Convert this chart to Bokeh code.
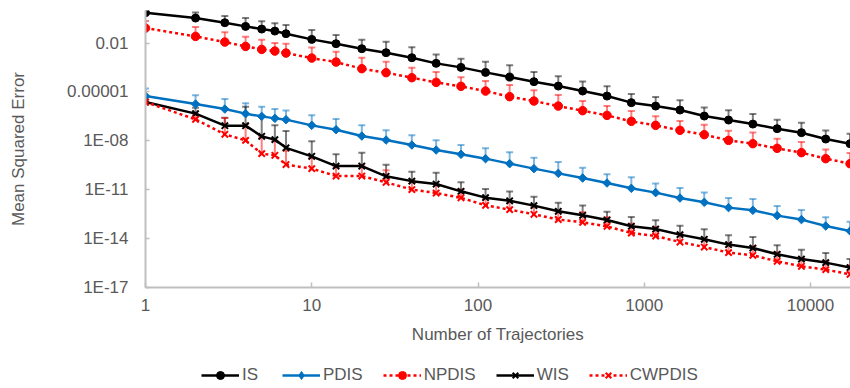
from bokeh.plotting import figure
from bokeh.layouts import column
from bokeh.models import (ColumnDataSource, Whisker, TeeHead, Legend, LegendItem,
                          FixedTicker, Range1d)
from bokeh.embed import file_html
from bokeh.resources import INLINE

# ---------------- data ----------------
trajectories = [1, 2, 3, 4, 5, 6, 7, 10, 14, 20, 28, 40, 56, 79, 111, 155, 217, 304,
                426, 597, 836, 1171, 1640, 2296, 3214, 4500, 6300, 8820, 12348, 17287]

is_mse = [0.733, 0.342, 0.178, 0.106, 0.0723, 0.0545, 0.0378, 0.0169, 9.18e-3, 4.53e-3,
          2.58e-3, 1.27e-3, 5.69e-4, 3.23e-4, 1.59e-4, 8.2e-5, 4.29e-5, 2.3e-5, 1.135e-5,
          5.6e-6, 2.21e-6, 1.36e-6, 7.76e-7, 3.32e-7, 1.89e-7, 1.07e-7, 5.6e-8, 3.18e-8,
          1.29e-8, 6.73e-9]
is_err = [0.0, 0.42, 0.28, 0.24, 0.15, 0.11, 0.091, 0.046, 0.022, 0.0116,
          0.0096, 0.0042, 1.46e-3, 7.8e-4, 5.6e-4, 3.5e-4, 1.26e-4, 6.8e-5, 3.3e-5,
          1.65e-5, 5.3e-6, 3.5e-6, 2.3e-6, 8.0e-7, 5.6e-7, 3.3e-7, 1.44e-7, 9.9e-8,
          3.1e-8, 2.1e-8]

pdis_mse = [5.6e-6, 1.81e-6, 8.93e-7, 4.67e-7, 3.18e-7, 2.4e-7, 2.0e-7, 8.93e-8, 4.86e-8,
            1.97e-8, 1.12e-8, 5.52e-9, 2.73e-9, 1.49e-9, 8.09e-10, 3.99e-10, 1.97e-10,
            1.01e-10, 5.22e-11, 2.58e-11, 1.22e-11, 6.64e-12, 3.1e-12, 1.69e-12, 7.98e-13,
            5.45e-13, 2.58e-13, 1.47e-13, 5.93e-14, 2.92e-14]
pdis_err = [1.1e-5, 4.4e-6, 2.8e-6, 1.54e-6, 9.3e-7, 6.5e-7, 5.4e-7, 2.8e-7, 1.72e-7,
            7.0e-8, 3.3e-8, 1.62e-8, 8.2e-9, 4.1e-9, 2.7e-9, 1.57e-9, 7.3e-10,
            4.0e-10, 1.72e-10, 6.2e-11, 4.6e-11, 1.71e-11, 9.6e-12, 5.0e-12, 2.35e-12,
            2.14e-12, 7.6e-13, 4.3e-13, 1.44e-13, 7.9e-14]

npdis_mse = [0.0832, 0.0258, 0.0115, 6.28e-3, 4.1e-3, 3.23e-3, 2.44e-3, 1.2e-3, 6.82e-4,
             2.69e-4, 1.53e-4, 7.53e-5, 3.88e-5, 2.21e-5, 1.135e-5, 5.15e-6, 2.77e-6,
             1.36e-6, 7.13e-7, 3.66e-7, 1.57e-7, 8.93e-8, 4.41e-8, 2.4e-8, 1.07e-8,
             6.73e-9, 3.47e-9, 1.89e-9, 8.09e-10, 3.99e-10]
npdis_err = [0.14, 0.070, 0.034, 0.0185, 0.0121, 6.8e-3, 6.6e-3, 4.2e-3, 2.24e-3,
             1.0e-3, 5.7e-4, 2.33e-4, 1.32e-4, 5.7e-5, 3.5e-5, 2.17e-5, 9.8e-6,
             5.1e-6, 2.1e-6, 1.0e-6, 5.2e-7, 2.4e-7, 1.2e-7, 7.4e-8, 3.1e-8,
             2.6e-8, 1.02e-8, 6.7e-9, 2.1e-9, 1.41e-9]

wis_mse = [2.4e-6, 4.67e-7, 8.57e-8, 8.57e-8, 1.89e-8, 1.19e-8, 3.72e-9, 1.12e-9, 2.84e-10,
           2.84e-10, 6.64e-11, 3.37e-11, 2.24e-11, 7.98e-12, 3.27e-12, 2.08e-12, 1.06e-12,
           4.73e-13, 2.69e-13, 1.38e-13, 5.69e-14, 3.88e-14, 1.76e-14, 9.06e-15, 4.29e-15,
           2.65e-15, 1.09e-15, 5.6e-16, 3.37e-16, 1.66e-16]
wis_err = [0.0, 6.2e-7, 1.8e-7, 1.17e-6, 3.0e-7, 7.8e-8, 3.6e-8, 8.2e-9, 1.2e-9,
           1.58e-9, 2.8e-10, 9.2e-11, 8.8e-11, 2.05e-11, 7.9e-12, 5.7e-12, 2.6e-12,
           1.14e-12, 7.9e-13, 3.1e-13, 1.55e-13, 9.4e-14, 4.3e-14, 2.8e-14, 1.17e-14,
           9.9e-15, 2.8e-15, 1.52e-15, 9.9e-16, 4.0e-16]

cwpdis_mse = [2.4e-6, 2.08e-7, 2.51e-8, 1.07e-8, 1.64e-9, 1.29e-9, 3.52e-10, 1.97e-10,
              6.92e-11, 6.92e-11, 2.84e-11, 1.03e-11, 6.28e-12, 3.18e-12, 1.1e-12,
              6.01e-13, 3.1e-13, 1.49e-13, 1.0e-13, 5.69e-14, 2.21e-14, 1.45e-14,
              6.18e-15, 3.05e-15, 1.38e-15, 9.44e-16, 4.05e-16, 2.0e-16, 1.25e-16, 6.46e-17]
cwpdis_err = [0.0, 2.1e-7, 2.3e-7, 9.2e-8, 1.7e-8, 9.4e-9, 2.1e-9, 7.0e-10,
              1.88e-10, 2.4e-10, 1.26e-10, 2.5e-11, 1.52e-11, 7.1e-12, 2.0e-12,
              1.54e-12, 6.9e-13, 3.3e-13, 3.1e-13, 1.46e-13, 6.0e-14, 3.7e-14,
              1.38e-14, 6.8e-15, 3.8e-15, 2.4e-15, 1.04e-15, 4.5e-16, 3.0e-16, 1.56e-16]

series_names = ["IS", "PDIS", "NPDIS", "WIS", "CWPDIS"]

x_ticks = [1, 10, 100, 1000, 10000]
x_tick_labels = ["1", "10", "100", "1000", "10000"]
y_ticks = [1e-17, 1e-14, 1e-11, 1e-8, 1e-5, 1e-2]
y_tick_labels = ["1E-17", "1E-14", "1E-11", "1E-08", "0.00001", "0.01"]

# ---------------- main figure ----------------
FONT = "Liberation Sans"
TXT = "#595959"
AXC = "#bfbfbf"

p = figure(width=850, height=362, x_axis_type="log", y_axis_type="log",
           x_range=Range1d(1, 17400), y_range=Range1d(1e-17, 1),
           output_backend="svg", toolbar_location=None,
           min_border_left=145, min_border_right=0, min_border_top=10,
           min_border_bottom=75)
p.outline_line_color = None
p.xgrid.visible = False
p.ygrid.visible = False
p.background_fill_color = "white"
p.border_fill_color = "white"

for ax in (p.xaxis[0], p.yaxis[0]):
    ax.axis_line_color = AXC
    ax.axis_line_width = 2
    ax.major_tick_line_color = AXC
    ax.major_tick_line_width = 1.5
    ax.major_tick_out = 0
    ax.minor_tick_line_color = None
    ax.major_label_text_font = FONT
    ax.major_label_text_font_size = "17px"
    ax.major_label_text_color = TXT
    ax.axis_label_text_font = FONT
    ax.axis_label_text_font_size = "17px"
    ax.axis_label_text_color = TXT
    ax.axis_label_text_font_style = "normal"

p.xaxis[0].ticker = FixedTicker(ticks=x_ticks)
p.xaxis[0].major_label_overrides = dict(zip(x_ticks, x_tick_labels))
p.xaxis[0].major_tick_in = 5
p.xaxis[0].major_label_standoff = 11
p.xaxis[0].axis_label = "Number of Trajectories"
p.xaxis[0].axis_label_standoff = 11

p.yaxis[0].ticker = FixedTicker(ticks=y_ticks)
p.yaxis[0].major_label_overrides = dict(zip(y_ticks, y_tick_labels))
p.yaxis[0].major_tick_in = 4
p.yaxis[0].major_label_standoff = 17
p.yaxis[0].axis_label = "Mean Squared Error"
p.yaxis[0].axis_label_standoff = 36

BLACK = "#000000"
RED = "#ff0000"
BLUE = "#0070c0"

# name, values, errors, colour, chart marker, size, dash, angle, legend marker, legend size
specs = [
    ("IS", is_mse, is_err, BLACK, "circle", 8, "solid", 0.0, "circle", 8),
    ("PDIS", pdis_mse, pdis_err, BLUE, "square", 6, "solid", 0.785398, "diamond", 10),
    ("NPDIS", npdis_mse, npdis_err, RED, "circle", 8.5, "3 3", 0.0, "circle", 8.5),
    ("WIS", wis_mse, wis_err, BLACK, "x", 9, "solid", 0.0, "x", 9),
    ("CWPDIS", cwpdis_mse, cwpdis_err, RED, "x", 9, "3 3", 0.0, "x", 9),
]

# ---------------- legend strip (separate figure below the chart) ----------------
lg = figure(width=850, height=26, x_range=Range1d(-3, -2), y_range=Range1d(-3, -2),
            output_backend="svg", toolbar_location=None,
            x_axis_location=None, y_axis_location=None,
            min_border=0, min_border_left=0, min_border_right=0,
            min_border_top=0, min_border_bottom=0)
lg.outline_line_color = None
lg.xgrid.visible = False
lg.ygrid.visible = False


def draw(fig, src, color, marker, size, dash, angle):
    lr = fig.line("x", "y", source=src, line_color=color, line_width=2.5, line_dash=dash)
    if marker == "x":
        sr = fig.scatter("x", "y", source=src, marker="x", size=size,
                         line_color=color, line_width=2)
    else:
        sr = fig.scatter("x", "y", source=src, marker=marker, size=size, angle=angle,
                         fill_color=color, line_color=color, line_width=1)
    return lr, sr


items = []
for name, ys, errs, color, marker, size, dash, angle, lmarker, lsize in specs:
    src = ColumnDataSource(dict(x=trajectories, y=ys,
                                upper=[a + b for a, b in zip(ys, errs)]))
    w = Whisker(source=src, base="x", lower="y", upper="upper", dimension="height",
                line_color=color, line_alpha=0.5, line_width=2,
                upper_head=TeeHead(size=7, line_color=color, line_alpha=0.5, line_width=2),
                lower_head=None, level="underlay")
    p.add_layout(w)
    draw(p, src, color, marker, size, dash, angle)
    lr, sr = draw(lg, src, color, lmarker, lsize, dash, 0.0)
    items.append(LegendItem(label=name, renderers=[lr, sr]))

legend = Legend(items=items, location=(56, 3), orientation="horizontal",
                glyph_width=38, glyph_height=20, label_height=20, label_standoff=3,
                spacing=20, padding=0, margin=0, border_line_color=None,
                background_fill_alpha=0, label_text_font=FONT,
                label_text_font_size="17px", label_text_color=TXT)
lg.add_layout(legend)

layout = column(p, lg, spacing=0)
open("out.html", "w").write(file_html(layout, INLINE))
